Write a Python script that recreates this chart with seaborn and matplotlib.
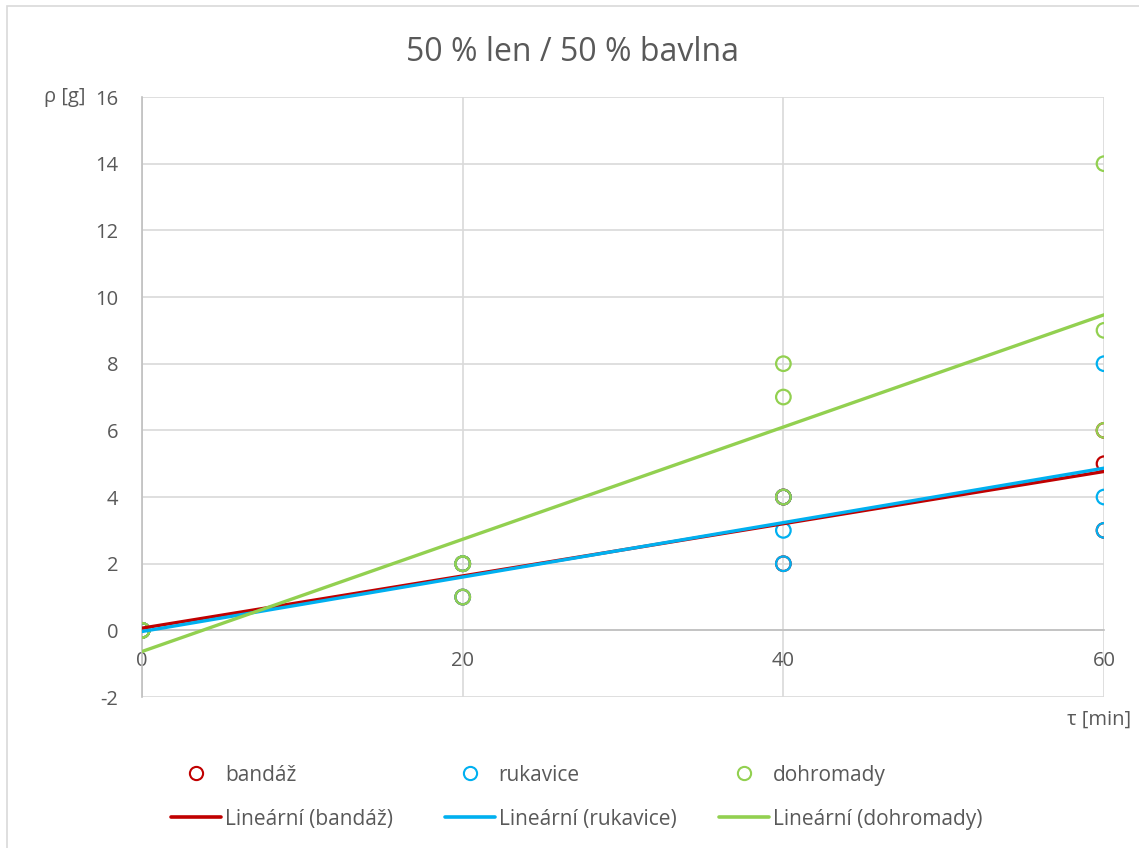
import pandas as pd
import numpy as np
import seaborn as sns
import matplotlib.pyplot as plt
from matplotlib.lines import Line2D
from matplotlib.patches import Rectangle

# data
times = [0, 0, 0, 20, 20, 20, 40, 40, 40, 60, 60, 60]
bandaz = [0, 0, 0, 2, 2, 1, 4, 4, 2, 6, 5, 3]
rukavice = [0, 0, 0, 2, 1, 2, 4, 3, 2, 8, 4, 3]
dohromady = [0, 0, 0, 2, 2, 1, 8, 7, 4, 14, 9, 6]

series_names = ["bandáž", "rukavice", "dohromady"]
colors = ["#C00000", "#00B0F0", "#92D050"]

df = pd.DataFrame({
    "t": times * 3,
    "m": bandaz + rukavice + dohromady,
    "serie": [s for s in series_names for _ in times],
})

sns.set_style("white")
plt.rcParams["font.family"] = ["Open Sans", "DejaVu Sans"]
plt.rcParams["axes.unicode_minus"] = False
txt = "#595959"

fig = plt.figure(figsize=(11.39, 8.48), dpi=100)
ax = fig.add_axes([0.1247, 0.178, 0.8446, 0.7076])

# outer chart border
fig.patches.append(Rectangle((0.006, -0.02), 1.1, 1.013, transform=fig.transFigure,
                             fill=False, edgecolor="#D9D9D9", linewidth=1.2))

for name, col in zip(series_names, colors):
    sub = df[df["serie"] == name]
    sns.scatterplot(data=sub, x="t", y="m", ax=ax, s=110, facecolor="none",
                    edgecolor=col, linewidth=1.6, zorder=3, legend=False)

for name, col in zip(series_names, colors):
    sub = df[df["serie"] == name]
    sns.regplot(data=sub, x="t", y="m", ax=ax, scatter=False, ci=None,
                color=col, line_kws={"linewidth": 2.4, "zorder": 4}, truncate=True)

ax.set_xlim(0, 60)
ax.set_ylim(-2, 16)
ax.set_xticks([0, 20, 40, 60])
ax.set_yticks(np.arange(-2, 17, 2))
ax.grid(True, color="#D9D9D9", linewidth=1.2)
ax.set_axisbelow(True)
for sp in ["top", "right"]:
    ax.spines[sp].set_visible(False)
ax.spines["bottom"].set_position(("data", 0))
ax.spines["bottom"].set_color("#BFBFBF")
ax.spines["left"].set_color("#BFBFBF")
ax.spines["bottom"].set_linewidth(1.2)
ax.spines["left"].set_linewidth(1.2)
ax.tick_params(axis="both", length=0, labelsize=14.5, labelcolor=txt)
ax.tick_params(axis="x", pad=15)
ax.tick_params(axis="y", pad=17)
ax.set_xlabel("")
ax.set_ylabel("")

fig.text(0.503, 0.938, "50 % len / 50 % bavlna", ha="center", va="center",
         fontsize=23, color=txt)
fig.text(0.057, 0.886, "ρ [g]", ha="center", va="center", fontsize=14.5, color=txt)
fig.text(0.9935, 0.151, "τ [min]", ha="right", va="center", fontsize=14.5, color=txt)

# legend, one column per series
lefts = [0.143, 0.383, 0.624]
for name, col, lx in zip(series_names, colors, lefts):
    h1 = Line2D([], [], marker="o", linestyle="none", markersize=9.5,
                markerfacecolor="none", markeredgecolor=col, markeredgewidth=1.5)
    h2 = Line2D([], [], color=col, linewidth=2.6)
    fig.legend([h1, h2], [name, "Lineární (" + name + ")"], loc="upper left",
               bbox_to_anchor=(lx, 0.108), frameon=False, fontsize=15,
               labelcolor=txt, handlelength=2.4, handletextpad=0.2,
               labelspacing=1.1, borderaxespad=0)

fig.savefig("out.png", dpi=100)
